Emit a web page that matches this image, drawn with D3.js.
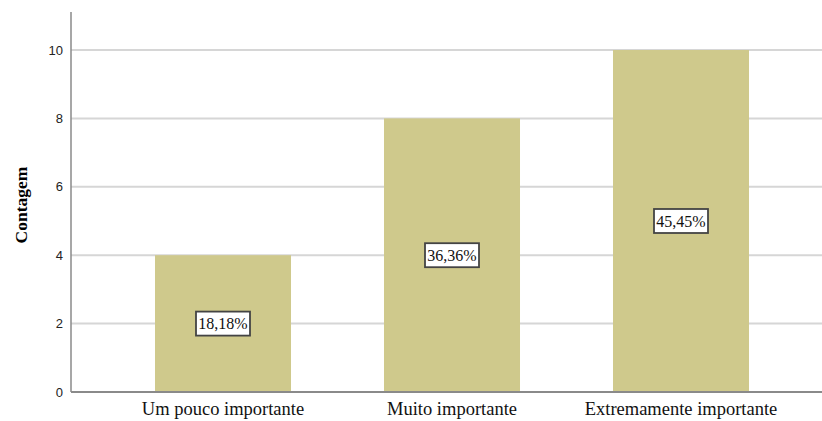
<!DOCTYPE html>
<html>
<head>
<meta charset="utf-8">
<script src="https://cdn.jsdelivr.net/npm/d3@7"></script>
<style>
  body { margin: 0; background: #fff; }
  svg { display: block; }
</style>
</head>
<body>
<svg id="chart" width="822" height="421"></svg>
<script>
"use strict";

var categories = ["Um pouco importante", "Muito importante", "Extremamente importante"];
var counts = [4, 8, 10];
var percentLabels = ["18,18%", "36,36%", "45,45%"];
var yTicks = [0, 2, 4, 6, 8, 10];

var plotLeft = 71, plotRight = 822, plotTop = 12, plotBottom = 392;

var svg = d3.select("#chart");

var x = d3.scaleBand().domain(categories).range([108.5, 795.5]).paddingInner(0.406).paddingOuter(0.203);
var y = d3.scaleLinear().domain([0, 10]).range([plotBottom, 50]);

// grid lines
svg.append("g").selectAll("line").data(yTicks.filter(function (d) { return d > 0; })).enter().append("line")
  .attr("x1", plotLeft).attr("x2", plotRight)
  .attr("y1", function (d) { return y(d); }).attr("y2", function (d) { return y(d); })
  .attr("stroke", "#d6d6d6").attr("stroke-width", 2);

// bars
svg.append("g").selectAll("rect").data(counts).enter().append("rect")
  .attr("x", function (d, i) { return x(categories[i]); })
  .attr("width", x.bandwidth())
  .attr("y", function (d) { return y(d); })
  .attr("height", function (d) { return y(0) - y(d); })
  .attr("fill", "#cfc98c");

// axes
var yAxis = svg.append("g").attr("transform", "translate(" + plotLeft + ",0)")
  .call(d3.axisLeft(y).tickValues(yTicks).tickSize(0).tickPadding(8));
yAxis.select(".domain").remove();
yAxis.selectAll("text").attr("font-family", "Liberation Sans, Arial, sans-serif").attr("font-size", 13).attr("fill", "#222");

svg.append("line").attr("x1", plotLeft).attr("x2", plotLeft).attr("y1", plotTop).attr("y2", plotBottom)
  .attr("stroke", "#8a8a8a").attr("stroke-width", 1.5);
svg.append("line").attr("x1", plotLeft).attr("x2", plotRight).attr("y1", plotBottom).attr("y2", plotBottom)
  .attr("stroke", "#8a8a8a").attr("stroke-width", 2);

var xAxis = svg.append("g").attr("transform", "translate(0," + plotBottom + ")")
  .call(d3.axisBottom(x).tickSize(0).tickPadding(10));
xAxis.select(".domain").remove();
xAxis.selectAll("text").attr("font-family", "Liberation Serif, Times New Roman, serif").attr("font-size", 18.5).attr("fill", "#111");

// y title
svg.append("text")
  .attr("transform", "translate(27,205) rotate(-90)")
  .attr("text-anchor", "middle")
  .attr("font-family", "Liberation Serif, Times New Roman, serif")
  .attr("font-weight", "bold").attr("font-size", 17.5)
  .text("Contagem");

// percent labels
var labels = svg.append("g").selectAll("g").data(counts).enter().append("g")
  .attr("transform", function (d, i) {
    return "translate(" + (x(categories[i]) + x.bandwidth() / 2) + "," + y(d / 2) + ")";
  });
labels.append("rect")
  .attr("x", -27).attr("y", -12).attr("width", 54).attr("height", 24)
  .attr("fill", "#fff").attr("stroke", "#444").attr("stroke-width", 1.8);
labels.append("text")
  .attr("text-anchor", "middle").attr("dy", "0.35em")
  .attr("font-family", "Liberation Serif, Times New Roman, serif").attr("font-size", 16)
  .attr("fill", "#111")
  .text(function (d, i) { return percentLabels[i]; });
</script>
</body>
</html>
